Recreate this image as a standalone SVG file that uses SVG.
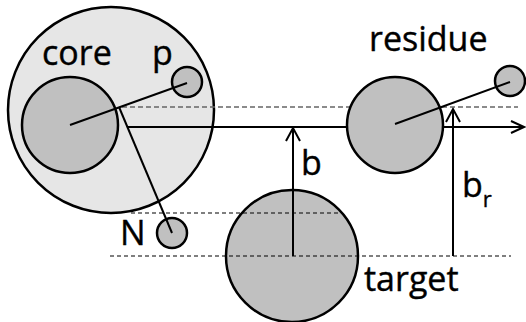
<svg xmlns="http://www.w3.org/2000/svg" width="526" height="322" viewBox="0 0 526 322">
<style>
.c{stroke:#000;stroke-width:2.5}
.l{stroke:#000;stroke-width:2;fill:none}
.d{stroke:#000;stroke-width:1.2;stroke-dasharray:4 3;fill:none}
.dg{stroke:#666;stroke-width:1.5;stroke-dasharray:5 3;fill:none}
.t{font-family:"Open Sans","Noto Sans",sans-serif;font-size:34px;fill:#000;stroke:#000;stroke-width:0.4}
.dark{fill:#c0c0c0}
</style>
<g id="atom">
<circle class="c" cx="111" cy="110" r="103" fill="#e6e6e6"/>
<text class="t" x="42" y="65">core</text>
<text class="t" x="152" y="65">p</text>
</g>
<g id="core"><circle class="c dark" cx="70" cy="125" r="48"/></g>
<g id="p"><circle class="c dark" cx="187" cy="82" r="15"/></g>
<g id="N"><circle class="c dark" cx="172" cy="233" r="15"/><text class="t" x="120" y="245">N</text></g>
<g id="connectors-back">
<line class="dg" x1="122" y1="107" x2="518" y2="107"/>
<line class="l" x1="128" y1="127" x2="524" y2="127"/>
<polyline class="l" points="511,121 524,127 511,133"/>
</g>
<g id="residue">
<circle class="c dark" cx="395" cy="125" r="48"/>
<text class="t" x="369" y="51">residue</text>
</g>
<g id="residue-p"><circle class="c dark" cx="510" cy="81" r="15"/></g>
<g id="target">
<circle class="c dark" cx="292" cy="256" r="66"/>
<text class="t" x="364" y="291">target</text>
</g>
<g id="connectors">
<line class="l" x1="70" y1="125" x2="187" y2="83"/>
<line class="l" x1="119" y1="107" x2="172" y2="233"/>
<line class="l" x1="395" y1="124" x2="510" y2="82"/>
<line class="d" x1="131" y1="213" x2="338" y2="213"/>
<line class="d" x1="110" y1="256" x2="511" y2="256"/>
<line class="l" x1="293" y1="256" x2="293" y2="128"/>
<polyline class="l" points="286,141 293,128 300,141"/>
<line class="l" x1="453" y1="256" x2="453" y2="109"/>
<polyline class="l" points="446,122 453,109 460,122"/>
</g>
<g id="labels">
<text class="t" x="301" y="175">b</text>
<text class="t" x="462" y="197">b<tspan font-size="22" dy="10">r</tspan></text>
</g>
</svg>
